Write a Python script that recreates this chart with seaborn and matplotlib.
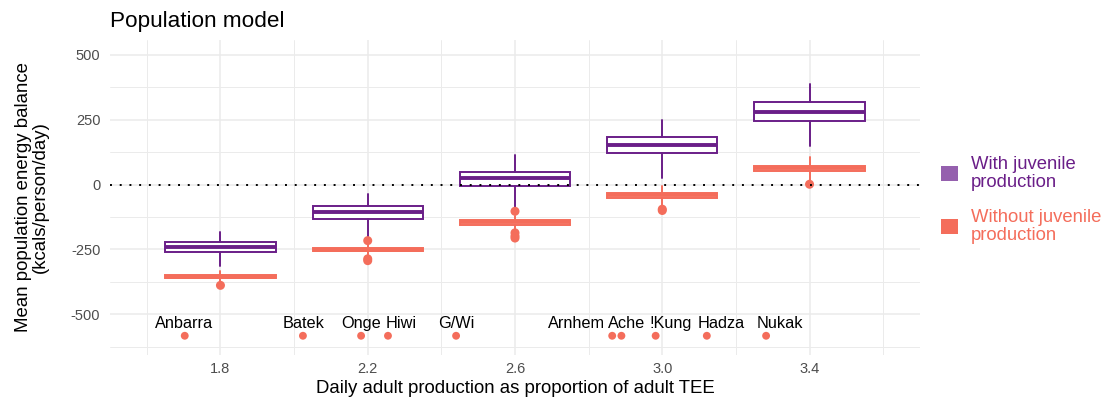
import numpy as np
import pandas as pd
import matplotlib
matplotlib.use("Agg")
import matplotlib.pyplot as plt
from matplotlib.patches import Patch
from matplotlib.ticker import FixedLocator
import seaborn as sns

# ---------------- data ----------------
box_x = [1.8, 2.2, 2.6, 3.0, 3.4]

# With juvenile production (purple)
with_whislo = [-313, -201, -92, 26, 148]
with_q1 = [-258, -133, -6, 120, 244]
with_med = [-240, -106, 24, 151, 280]
with_q3 = [-221, -83, 49, 184, 316]
with_whishi = [-184, -37, 113, 248, 385]

# Without juvenile production (orange)
without_whislo = [-372, -272, -172, -79, 17]
without_q1 = [-361, -257, -155, -52, 52]
without_med = [-355, -251, -146, -42, 62]
without_q3 = [-349, -245, -138, -33, 71]
without_whishi = [-332, -232, -120, -4, 107]
without_fliers = [[-388], [-216, -286, -293], [-103, -186, -198, -206], [-95, -100], [1]]

# Forager populations
pop_names = ["Anbarra", "Batek", "Onge", "Hiwi", "G/Wi", "Arnhem", "Ache", "!Kung", "Hadza", "Nukak"]
pop_x = [1.703, 2.024, 2.182, 2.255, 2.440, 2.864, 2.889, 2.982, 3.121, 3.282]
pop_y = [-582] * 10
label_x = [1.702, 2.025, 2.182, 2.292, 2.440, 2.766, 2.904, 3.024, 3.161, 3.319]
label_y = -553

series_labels = ["With juvenile\nproduction", "Without juvenile\nproduction"]

# ---------------- style ----------------
PURPLE = "#6A1E88"
PURPLE_KEY = "#9560AE"
ORANGE = "#F46D5B"
GRID = "#EBEBEB"

sns.set_theme(style="whitegrid")
plt.rcParams["font.family"] = ["Liberation Sans", "DejaVu Sans"]

fig = plt.figure(figsize=(11.06, 4.01), dpi=100)
ax = fig.add_axes([110 / 1106, 1 - 355 / 401, (920 - 110) / 1106, (355 - 40) / 401])
ax.set_facecolor("white")
for s in ax.spines.values():
    s.set_visible(False)

ax.set_xlim(1.5, 3.7)
ax.set_ylim(-656, 556)
ax.xaxis.set_major_locator(FixedLocator([1.8, 2.2, 2.6, 3.0, 3.4]))
ax.xaxis.set_minor_locator(FixedLocator([1.6, 2.0, 2.4, 2.8, 3.2, 3.6]))
ax.yaxis.set_major_locator(FixedLocator([-500, -250, 0, 250, 500]))
ax.yaxis.set_minor_locator(FixedLocator([-625, -375, -125, 125, 375]))
ax.grid(which="major", color=GRID, lw=1.1, zorder=0)
ax.grid(which="minor", color=GRID, lw=0.7, zorder=0)
ax.set_axisbelow(True)
ax.tick_params(which="both", length=0)
ax.tick_params(axis="x", pad=5, labelsize=10.5, labelcolor="#4D4D4D")
ax.tick_params(axis="y", pad=7, labelsize=10.5, labelcolor="#4D4D4D")
ax.set_xticklabels(["1.8", "2.2", "2.6", "3.0", "3.4"])
ax.set_yticklabels(["-500", "-250", "0", "250", "500"])


def make_stats(lo, q1, med, q3, hi):
    return [dict(whislo=a, q1=b, med=c, q3=d, whishi=e, fliers=[]) for a, b, c, d, e in zip(lo, q1, med, q3, hi)]


for stats, col, z in [
    (make_stats(without_whislo, without_q1, without_med, without_q3, without_whishi), ORANGE, 3),
    (make_stats(with_whislo, with_q1, with_med, with_q3, with_whishi), PURPLE, 4),
]:
    ax.bxp(stats, positions=box_x, widths=0.3, showcaps=False, showfliers=False,
           patch_artist=True, manage_ticks=False, zorder=z,
           boxprops=dict(facecolor="white", edgecolor=col, lw=1.4),
           whiskerprops=dict(color=col, lw=1.4),
           medianprops=dict(color=col, lw=2.8, solid_capstyle="butt"))

# outliers
fl_rows = [(x, v) for x, vals in zip(box_x, without_fliers) for v in vals]
fl_df = pd.DataFrame(fl_rows, columns=["x", "y"])
sns.scatterplot(data=fl_df, x="x", y="y", color=ORANGE, s=42, edgecolor="none", ax=ax, zorder=5)

# zero line
ax.axhline(0, color="black", lw=1.4, linestyle=(0, (1, 4)), zorder=6)

# populations
pop_df = pd.DataFrame({"x": pop_x, "y": pop_y, "name": pop_names})
sns.scatterplot(data=pop_df, x="x", y="y", color=ORANGE, s=32, edgecolor="none", ax=ax, zorder=5)
for n, lx in zip(pop_names, label_x):
    ax.text(lx, label_y, n, ha="center", va="baseline", fontsize=11.7, color="black", zorder=7)

ax.set_xlabel("Daily adult production as proportion of adult TEE", fontsize=13.4, color="black", labelpad=3)
ax.set_ylabel("Mean population energy balance\n(kcals/person/day)", fontsize=13.4, color="black", labelpad=16,
              linespacing=0.95)

fig.text(110 / 1106, 1 - 26.7 / 401, "Population model", fontsize=16.2, color="black", va="baseline", ha="left")

handles = [Patch(facecolor=PURPLE_KEY, edgecolor="none"), Patch(facecolor=ORANGE, edgecolor="none")]
leg = fig.legend(handles, series_labels, loc="center left", bbox_to_anchor=(933.6 / 1106, 1 - 200 / 401),
                 frameon=False, fontsize=13.3, labelcolor=[PURPLE, ORANGE], handlelength=0.9,
                 handleheight=0.9, labelspacing=1.0, handletextpad=0.7, borderaxespad=0)
for t in leg.get_texts():
    t.set_linespacing(1.05)

fig.savefig("out.png", dpi=100, facecolor="white")
